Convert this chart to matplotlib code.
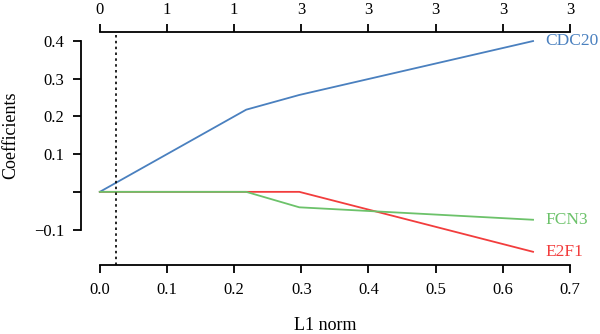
import matplotlib
matplotlib.use("Agg")
import matplotlib.pyplot as plt

# LASSO coefficient path (L1 norm vs coefficient)
l1_norm = [0.0, 0.218, 0.297, 0.645]
cdc20 = [0.0, 0.218, 0.257, 0.400]
fcn3 = [0.0, 0.0, -0.041, -0.074]
e2f1 = [0.0, 0.0, 0.0, -0.159]
genes = ["CDC20", "FCN3", "E2F1"]
lambda_min_l1 = 0.024

x_ticks = [0.0, 0.1, 0.2, 0.3, 0.4, 0.5, 0.6, 0.7]
df_labels = ["0", "1", "1", "3", "3", "3", "3", "3"]
y_ticks = [-0.1, 0.0, 0.1, 0.2, 0.3, 0.4]
y_labels = ["\u22120.1", "", "0.1", "0.2", "0.3", "0.4"]

plt.rcParams["font.family"] = ["Liberation Serif", "DejaVu Serif"]

fig = plt.figure(figsize=(6, 3.34), dpi=100)
ax = fig.add_axes([0.135, 0.2066, 0.815, 0.6976])

blue, green, red = "#4a80bf", "#6cc26a", "#f23d3d"
ax.plot(l1_norm, cdc20, color=blue, lw=1.3)
ax.plot(l1_norm, e2f1, color=red, lw=1.3)
ax.plot(l1_norm, fcn3, color=green, lw=1.3)
ax.axvline(lambda_min_l1, color="black", ls=(0, (1.5, 2)), lw=1.2)

for name, ys, c in zip(genes, [cdc20, fcn3, e2f1], [blue, green, red]):
    ax.text(l1_norm[-1] + 0.018, ys[-1], name, color=c, fontsize=12.5,
            ha="left", va="center")

ax.set_xlim(-0.028, 0.7)
ax.set_ylim(-0.194, 0.424)
ax.set_xticks(x_ticks)
ax.set_xticklabels([f"{v:.1f}" for v in x_ticks])
ax.set_yticks(y_ticks)
ax.set_yticklabels(y_labels)

for s in ["left", "bottom", "top"]:
    ax.spines[s].set_linewidth(1.3)
ax.spines["right"].set_visible(False)
ax.spines["left"].set_bounds(-0.1, 0.4)
ax.spines["bottom"].set_bounds(0.0, 0.7)
ax.spines["top"].set_bounds(0.0, 0.7)

ax.tick_params(axis="both", length=6, width=1.3, labelsize=12, pad=6)

top = ax.secondary_xaxis("top")
top.set_xticks(x_ticks)
top.set_xticklabels(df_labels)
top.tick_params(length=6, width=1.3, labelsize=12, pad=4)
top.spines["top"].set_visible(False)

ax.set_xlabel("L1 norm", fontsize=13, labelpad=14)
ax.set_ylabel("Coefficients", fontsize=13)
ax.yaxis.set_label_coords(-0.126, 0.558)

fig.savefig("out.png", dpi=100)
